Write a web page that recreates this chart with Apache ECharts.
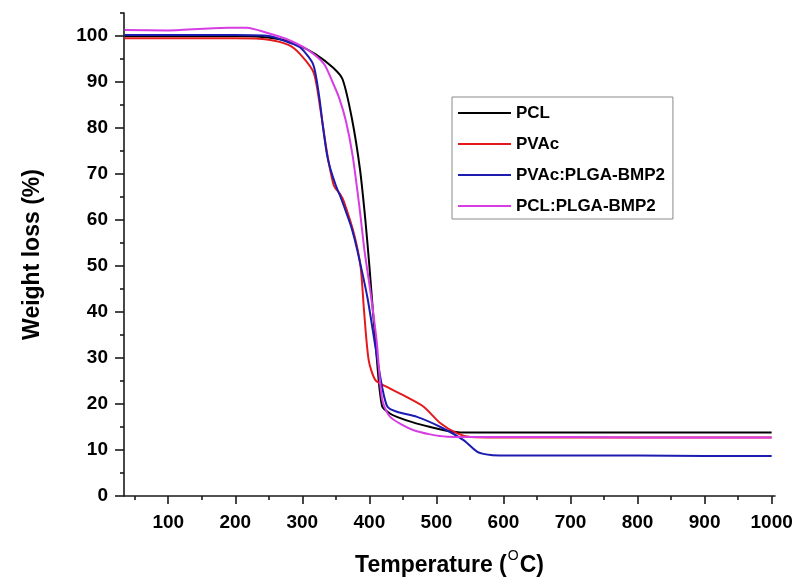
<!DOCTYPE html>
<html>
<head>
<meta charset="utf-8">
<script src="https://cdn.jsdelivr.net/npm/echarts@6/dist/echarts.min.js"></script>
<style>
  html, body { margin: 0; padding: 0; background: #fff; }
  #chart { width: 797px; height: 582px; }
</style>
</head>
<body>
<div id="chart"></div>
<script>
// temperature (°C) and weight (%) per sample
const pclT = [35, 100, 200, 240, 270, 297, 320, 346, 360, 374, 386, 394, 400, 411, 419, 430, 441, 465, 491, 515, 540, 600, 700, 800, 900, 1000];
const pclW = [100, 100, 100, 99.8, 99.2, 97.8, 96, 93.1, 90.6, 82, 71, 60, 50, 30, 19.5, 18, 17.2, 16, 15, 14.2, 13.8, 13.8, 13.8, 13.8, 13.8, 13.8];

const pvacT = [35, 100, 200, 250, 280, 297, 317, 327, 337, 347, 357, 362, 377, 387, 392, 399, 409, 426, 456, 481, 506, 531, 551, 600, 700, 800, 900, 1000];
const pvacW = [99.5, 99.5, 99.5, 99.2, 98, 96, 92, 84, 74.5, 67.5, 65.5, 64, 57, 49.7, 40.3, 29.5, 25.2, 23.7, 21.5, 19.4, 15.8, 13.6, 12.8, 12.7, 12.7, 12.7, 12.7, 12.7];

const pvacBmpT = [35, 100, 200, 250, 280, 297, 316, 325, 331, 337, 342, 350, 357, 367, 374, 382, 397, 409, 419, 427, 441, 471, 506, 541, 561, 581, 600, 700, 800, 900, 1000];
const pvacBmpW = [100.2, 100.2, 100.2, 100, 98.6, 97.5, 93.9, 87, 80, 74, 71, 67.5, 65, 61, 58, 53.4, 43.2, 32.4, 23.7, 19.4, 18.3, 17.2, 15, 12.1, 9.6, 8.9, 8.8, 8.8, 8.8, 8.7, 8.7];

const pclBmpT = [35, 100, 190, 217, 247, 277, 307, 332, 345, 355, 365, 375, 385, 393, 401, 411, 419, 431, 466, 516, 600, 700, 800, 900, 1000];
const pclBmpW = [101.3, 101.2, 101.8, 101.8, 100.7, 99.3, 97.1, 94, 90, 86.5, 81.5, 74, 63, 53, 45, 33.5, 21, 17.2, 14.3, 12.9, 12.8, 12.8, 12.7, 12.7, 12.7];

const seriesNames = ["PCL", "PVAc", "PVAc:PLGA-BMP2", "PCL:PLGA-BMP2"];
const seriesColors = ["#000000", "#e3191c", "#1c1cb0", "#d63ee3"];
const seriesT = [pclT, pvacT, pvacBmpT, pclBmpT];
const seriesW = [pclW, pvacW, pvacBmpW, pclBmpW];

const xMajor = [100, 200, 300, 400, 500, 600, 700, 800, 900, 1000];
const xMinor = [50, 150, 250, 350, 450, 550, 650, 750, 850, 950];
const yMajor = [0, 10, 20, 30, 40, 50, 60, 70, 80, 90, 100];
const yMinor = [5, 15, 25, 35, 45, 55, 65, 75, 85, 95, 105];

const font = "Arial, 'Liberation Sans', sans-serif";
const axisColor = "#1a1a1a";

const chart = echarts.init(document.getElementById("chart"), null, { renderer: "canvas" });

const zip = (xs, ys) => xs.map((x, i) => [x, ys[i]]);

const option = {
	animation: false,
	backgroundColor: "#fff",
	grid: { left: 124, right: 22, top: 13, bottom: 86 },
	legend: {
		left: 452,
		top: 97,
		orient: "vertical",
		borderColor: "#8a8a8a",
		borderWidth: 1,
		padding: [6, 8, 3, 6],
		itemWidth: 53,
		itemHeight: 2,
		itemGap: 11,
		icon: "rect",
		textStyle: { fontFamily: font, fontWeight: "bold", fontSize: 17, color: "#000", lineHeight: 20 },
		data: seriesNames,
	},
	xAxis: [
		{
			type: "value",
			min: 34,
			max: 1005,
			name: "{a|Temperature (}{s|O}{a|C)}",
			nameLocation: "middle",
			nameGap: 53,
			nameTextStyle: {
				rich: {
					a: { fontFamily: font, fontWeight: "bold", fontSize: 23, color: "#000", verticalAlign: "bottom", padding: [5, 0, 0, 0] },
					s: { fontFamily: font, fontSize: 14, color: "#000", verticalAlign: "top", padding: [0, 1, 0, 1] },
				},
			},
			axisLine: { onZero: false, lineStyle: { color: axisColor, width: 1.6 } },
			axisTick: { show: true, inside: false, length: 8, customValues: xMajor, lineStyle: { color: axisColor, width: 1.6 } },
			axisLabel: {
				customValues: xMajor,
				formatter: (v) => String(v),
				margin: 17,
				fontFamily: font,
				fontWeight: "bold",
				fontSize: 19,
				color: "#000",
			},
			splitLine: { show: false },
		},
		{
			type: "value",
			min: 34,
			max: 1005,
			position: "bottom",
			axisLine: { show: false },
			axisTick: { show: true, inside: false, length: 4, customValues: xMinor, lineStyle: { color: axisColor, width: 1.6 } },
			axisLabel: { show: false },
			splitLine: { show: false },
		},
	],
	yAxis: [
		{
			type: "value",
			min: 0,
			max: 105,
			position: "left",
			name: "Weight loss (%)",
			nameLocation: "middle",
			nameRotate: 90,
			nameGap: 80,
			nameTextStyle: { fontFamily: font, fontWeight: "bold", fontSize: 23, color: "#000" },
			axisLine: { show: true, onZero: false, lineStyle: { color: axisColor, width: 1.6 } },
			axisTick: { show: true, inside: false, length: 9, customValues: yMajor, lineStyle: { color: axisColor, width: 1.6 } },
			axisLabel: { customValues: yMajor, margin: 16, fontFamily: font, fontWeight: "bold", fontSize: 19, color: "#000" },
			splitLine: { show: false },
		},
		{
			type: "value",
			min: 0,
			max: 105,
			position: "left",
			axisLine: { show: false },
			axisTick: { show: true, inside: false, length: 4, customValues: yMinor, lineStyle: { color: axisColor, width: 1.6 } },
			axisLabel: { show: false },
			splitLine: { show: false },
		},
	],
	series: seriesNames.map((name, i) => ({
		name: name,
		type: "line",
		xAxisIndex: 0,
		yAxisIndex: 0,
		data: zip(seriesT[i], seriesW[i]),
		showSymbol: false,
		smooth: 0.25,
		color: seriesColors[i],
		lineStyle: { width: 2, color: seriesColors[i] },
	})),
};

chart.setOption(option);
</script>
</body>
</html>
